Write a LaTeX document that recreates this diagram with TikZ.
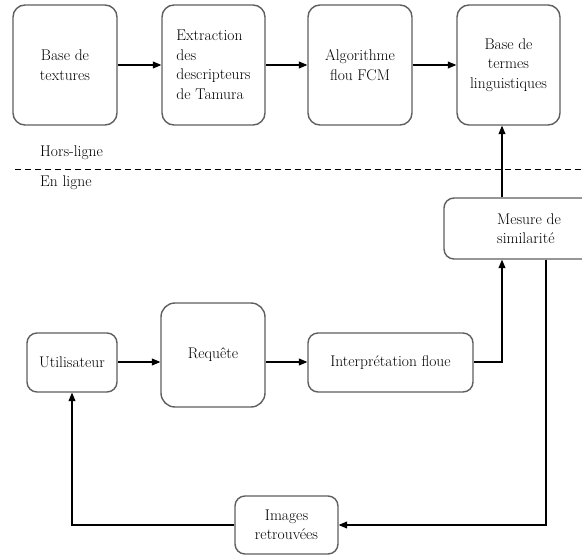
\documentclass[tikz,border=0pt]{standalone}
\usepackage{fontspec}
\newfontfamily\boxfont{Latin Modern Roman}
\usepackage{xcolor}
\usetikzlibrary{arrows.meta, positioning}
\definecolor{boxgray}{HTML}{5F5F5F}

\begin{document}
\begin{tikzpicture}[
    x=1pt, y=-1pt,
    >={Triangle[length=8.5pt, width=7pt]},
    box/.style={draw=boxgray, line width=1.4pt, rounded corners=#1, fill=white, inner sep=2pt, font=\boxfont\fontsize{15.5}{19.5}\selectfont, align=center},
    box/.default=12pt,
    arrow/.style={->, line width=1.1pt, color=black},
    sepline/.style={line width=1pt, dash pattern=on 6pt off 4pt},
    tag/.style={font=\boxfont\fontsize{15.5}{19.5}\selectfont, anchor=west, inner sep=0pt},
]
\useasboundingbox (0,0) rectangle (582,556);

% Hors-ligne
\node[box, minimum width=104pt, minimum height=120pt] (texbase) at (65,65) {Base de\\textures};
\node[box, minimum width=103pt, minimum height=120pt, align=left] (extract) at (213.5,65) {Extraction\\des\\descripteurs\\de Tamura};
\node[box, minimum width=104pt, minimum height=120pt] (fcm) at (360,65) {Algorithme\\flou FCM};
\node[box, minimum width=103pt, minimum height=120pt] (terms) at (508.5,65) {Base de\\termes\\linguistiques};

\draw[arrow] (texbase) -- (extract);
\draw[arrow] (extract) -- (fcm);
\draw[arrow] (fcm) -- (terms);

% Separation
\node[tag] (offline) at (40,153) {Hors-ligne};
\draw[sepline] (15,170) -- (582,170);
\node[tag] (online) at (40,183) {En ligne};

% En ligne
\node[box=10pt, minimum width=170pt, minimum height=61pt, align=left] (mesure) at (529,228.5) {Mesure de\\similarité};
\node[box=10pt, minimum width=90pt, minimum height=59pt] (user) at (72,362.5) {Utilisateur};
\node[box=14pt, minimum width=104pt, minimum height=104pt] (query) at (213,355) {Requête};
\node[box=10pt, minimum width=165pt, minimum height=59pt] (interp) at (390.5,362.5) {Interprétation floue};
\node[box=10pt, minimum width=103pt, minimum height=58pt] (images) at (286.5,525) {Images\\retrouvées};

\coordinate (tap) at (502,0);
\coordinate (drop) at (546,0);

\draw[arrow] (user.east |- 0,362) -- (query.west |- 0,362);
\draw[arrow] (query.east |- 0,362) -- (interp.west |- 0,362);
\draw[arrow] (interp.east |- 0,362) -| (mesure.south -| tap);
\draw[arrow] (mesure.north -| tap) -- (terms.south -| tap);
\draw[arrow] (mesure.south -| drop) |- (images.east);
\draw[arrow] (images.west) -| (user.south);

\end{tikzpicture}
\end{document}
